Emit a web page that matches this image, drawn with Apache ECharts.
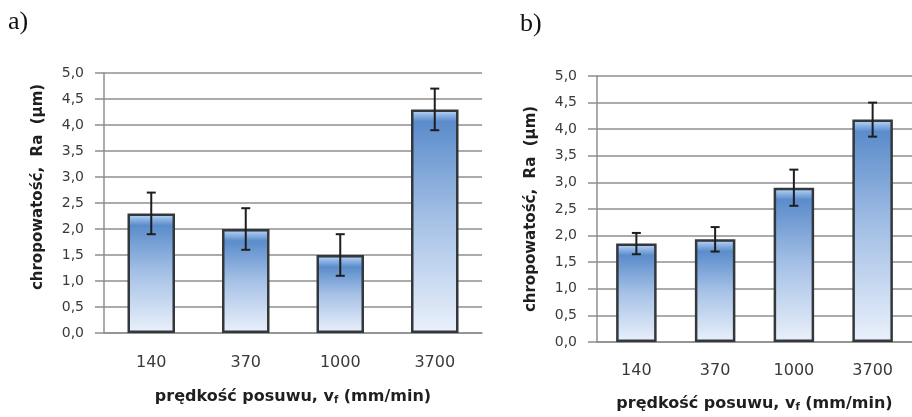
<!DOCTYPE html>
<html>
<head>
<meta charset="utf-8">
<script src="https://cdn.jsdelivr.net/npm/echarts@6/dist/echarts.min.js"></script>
<style>
  html, body { margin: 0; padding: 0; background: #fff; }
  #chart { width: 912px; height: 417px; }
</style>
</head>
<body>
<div id="chart"></div>
<script>
// Feed rate categories (mm/min)
const categories = ['140', '370', '1000', '3700'];

// Surface roughness Ra (µm), panel a) and its spread
const raA = [2.3, 2.0, 1.5, 4.3];
const errA = [0.4, 0.4, 0.4, 0.4];

// Surface roughness Ra (µm), panel b) and its spread
const raB = [1.85, 1.93, 2.9, 4.18];
const errB = [0.2, 0.23, 0.34, 0.32];

// Value axis ticks
const yMin = 0, yMax = 5, yStep = 0.5;

const panelLabels = ['a)', 'b)'];
const yName = 'chropowatość,  Ra  (µm)';

const chart = echarts.init(document.getElementById('chart'), null, { renderer: 'canvas' });

const gridColor = '#8f8f8f';
const textColor = '#3a3a3a';

// Glossy vertical fill; the light band sits a few pixels under the top edge
function barFill(value, pxPerUnit) {
  const h = Math.max(value * pxPerUnit, 1);
  const o = px => Math.min(px / h, 0.5);
  return new echarts.graphic.LinearGradient(0, 0, 0, 1, [
    { offset: 0, color: '#5a8cca' },
    { offset: o(3), color: '#a9c9ef' },
    { offset: o(6), color: '#8db3e3' },
    { offset: o(12), color: '#5b8ccb' },
    { offset: 0.5, color: '#a6c1e6' },
    { offset: 1, color: '#eaf1fb' }
  ]);
}

function yAxisFor(gridIndex, gap, pad) {
  return {
    type: 'value', gridIndex, min: yMin, max: yMax, interval: yStep,
    axisLine: { show: true, lineStyle: { color: gridColor, width: 1.5 } },
    axisTick: { show: true, length: 9, lineStyle: { color: gridColor, width: 1.5 } },
    splitLine: { show: true, lineStyle: { color: gridColor, width: 1.5 } },
    axisLabel: {
      margin: 20, color: textColor, fontFamily: 'DejaVu Sans', fontSize: 14,
      formatter: v => v.toFixed(1).replace('.', ',')
    },
    name: yName, nameLocation: 'middle', nameGap: gap, nameRotate: 90,
    nameTextStyle: {
      color: '#1f1f1f', fontFamily: 'DejaVu Sans', fontWeight: 'bold', fontSize: 15,
      padding: pad
    }
  };
}

function xAxisFor(gridIndex, labelMargin, nameGap) {
  return {
    type: 'category', gridIndex, data: categories,
    axisLine: { show: true, lineStyle: { color: gridColor, width: 1.5 } },
    axisTick: { show: false },
    axisLabel: { margin: labelMargin, color: textColor, fontFamily: 'DejaVu Sans', fontSize: 16 },
    name: '{m|prędkość posuwu, v}{s|f}{m| (mm/min)}',
    nameLocation: 'middle', nameGap: nameGap,
    nameTextStyle: {
      rich: {
        m: { color: '#1f1f1f', fontFamily: 'DejaVu Sans', fontWeight: 'bold', fontSize: 16 },
        s: { color: '#1f1f1f', fontFamily: 'DejaVu Sans', fontWeight: 'bold', fontSize: 10, padding: [7, 0, 0, 0] }
      }
    }
  };
}

function barSeries(idx, data, width, pxPerUnit) {
  return {
    type: 'bar', xAxisIndex: idx, yAxisIndex: idx, barWidth: width,
    data: data.map(v => ({ value: v, itemStyle: { color: barFill(v, pxPerUnit) } })),
    itemStyle: { borderColor: '#33383d', borderWidth: 2.5 },
    z: 2
  };
}

function errorSeries(idx, values, errs) {
  return {
    type: 'custom', xAxisIndex: idx, yAxisIndex: idx,
    data: values.map((v, i) => [i, v - errs[i], v + errs[i]]),
    z: 5,
    renderItem: function (params, api) {
      const lo = api.coord([api.value(0), api.value(1)]);
      const hi = api.coord([api.value(0), api.value(2)]);
      const half = 4.5;
      const style = { stroke: '#1e1e1e', lineWidth: 2 };
      return {
        type: 'group',
        children: [
          { type: 'line', shape: { x1: lo[0], y1: lo[1], x2: hi[0], y2: hi[1] }, style },
          { type: 'line', shape: { x1: hi[0] - half, y1: hi[1], x2: hi[0] + half, y2: hi[1] }, style },
          { type: 'line', shape: { x1: lo[0] - half, y1: lo[1], x2: lo[0] + half, y2: lo[1] }, style }
        ]
      };
    }
  };
}

chart.setOption({
  backgroundColor: '#ffffff',
  animation: false,
  grid: [
    { left: 104, top: 73, width: 378, height: 260 },
    { left: 597, top: 76, width: 316, height: 267 }
  ],
  xAxis: [xAxisFor(0, 22, 55), xAxisFor(1, 21, 53)],
  yAxis: [yAxisFor(0, 58, [0, 0, 0, 32]), yAxisFor(1, 58, 0)],
  series: [
    barSeries(0, raA, 47.5, 52),
    errorSeries(0, raA, errA),
    barSeries(1, raB, 40.5, 53.4),
    errorSeries(1, raB, errB)
  ],
  graphic: [
    { type: 'text', left: 8, top: 9, style: { text: panelLabels[0], font: '26px "Liberation Serif"', fill: '#111' } },
    { type: 'text', left: 520, top: 11, style: { text: panelLabels[1], font: '26px "Liberation Serif"', fill: '#111' } }
  ]
});
</script>
</body>
</html>
